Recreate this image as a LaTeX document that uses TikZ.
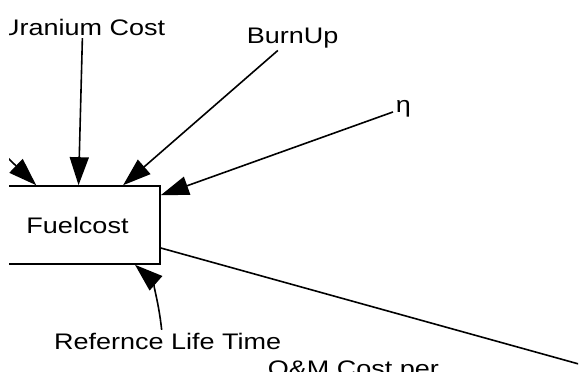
\documentclass[tikz,border=0pt]{standalone}
\usepackage{fontspec}
\setmainfont[FakeStretch=1.2]{Liberation Sans}
\usetikzlibrary{arrows.meta}

\begin{document}
\begin{tikzpicture}[x=1pt,y=-1pt,line width=1.6pt,
        font=\fontsize{22.5}{26}\selectfont,
        lbl/.style={inner sep=2pt},
        arr/.style={-{Triangle[length=28pt,width=19pt]}}]
            \useasboundingbox (0,0) rectangle (581,372);
            \clip (9,0) rectangle (578,372);
            \node[draw,fill=white,minimum width=165pt,minimum height=78pt] (fuel) at (77.5,225) {Fuelcost};
            \node[lbl,anchor=base east] (uranium) at (168,35) {Uranium Cost};
            \node[lbl,anchor=base west] (burnup) at (244,43) {BurnUp};
            \node[lbl,anchor=base west] (eta) at (393,112) {η};
            \node[lbl,anchor=base east] (lifetime) at (284,349) {Refernce Life Time};
            \node[lbl,anchor=base west] (omcost) at (265,376) {O\&M Cost per};
            \coordinate (offleft) at (-40,112);
            \coordinate (offright) at (640,381);
            \draw[arr] (offleft)--(fuel);
            \draw[arr] (uranium)--(fuel);
            \draw[arr] (burnup)--(fuel);
            \draw[arr] (eta)--(fuel);
            \draw[arr] ([xshift=-6pt]lifetime.north) .. controls (158,295) and (150,278) .. ([xshift=57.5pt]fuel.south);
            \draw (fuel)--(offright);
        \end{tikzpicture}
\end{document}
